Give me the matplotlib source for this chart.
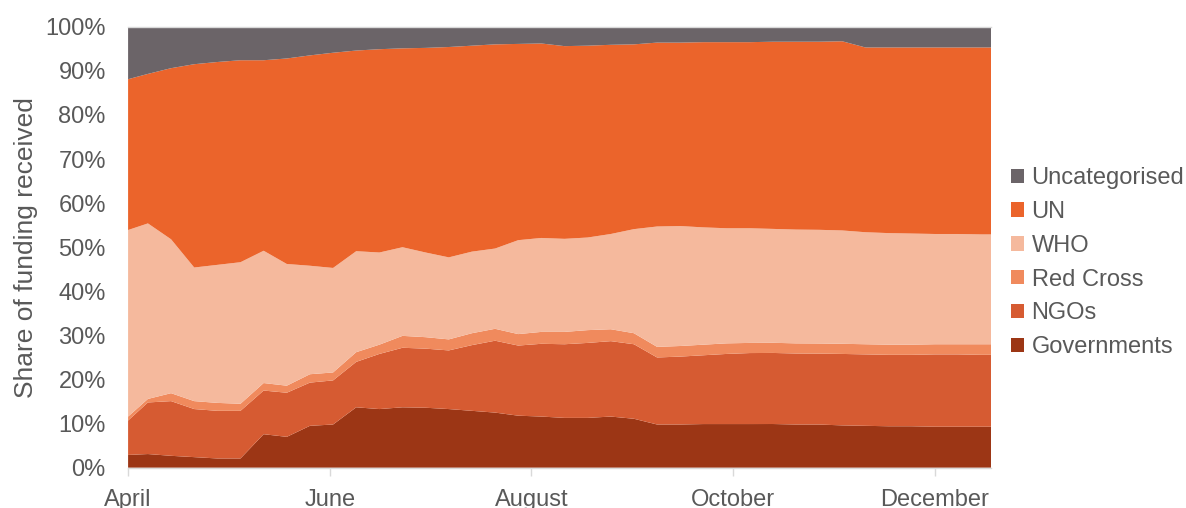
import numpy as np
import pandas as pd
import matplotlib
matplotlib.use("Agg")
import matplotlib.pyplot as plt
import matplotlib.dates as mdates

plt.rcParams['font.family'] = ['Liberation Sans', 'DejaVu Sans']

# weekly observations, April to mid-December 2020
dates = ([pd.Timestamp("2020-04-01")]
         + list(pd.date_range("2020-04-07", "2020-12-15", freq="7D"))
         + [pd.Timestamp("2020-12-18")])

# share of funding received (%)
governments = [2.9, 3.1, 2.7, 2.4, 2.1, 2.1, 7.6, 7.0, 9.5, 9.8,
               13.7, 13.3, 13.7, 13.6, 13.3, 12.9, 12.5, 11.8, 11.6, 11.3,
               11.3, 11.6, 11.1, 9.8, 9.8, 9.9, 9.9, 9.9, 9.9, 9.8,
               9.8, 9.6, 9.5, 9.4, 9.4, 9.3, 9.3, 9.3, 9.3]
ngos = [7.8, 11.7, 12.4, 10.9, 10.8, 10.8, 9.9, 10.0, 9.8, 10.0,
        10.3, 12.5, 13.5, 13.4, 13.3, 14.9, 16.3, 15.9, 16.5, 16.7,
        17.0, 17.1, 16.9, 15.2, 15.4, 15.6, 15.9, 16.1, 16.1, 16.1,
        16.1, 16.2, 16.2, 16.2, 16.2, 16.4, 16.4, 16.3, 16.3]
red_cross = [0.9, 0.8, 1.8, 1.8, 1.8, 1.6, 1.7, 1.6, 1.9, 1.8,
             2.2, 2.1, 2.7, 2.6, 2.5, 2.7, 2.7, 2.6, 2.7, 2.8,
             2.9, 2.7, 2.5, 2.4, 2.4, 2.4, 2.4, 2.3, 2.3, 2.3,
             2.3, 2.3, 2.3, 2.3, 2.3, 2.3, 2.3, 2.4, 2.4]
who = [42.3, 39.8, 34.9, 30.3, 31.3, 32.1, 30.0, 27.6, 24.6, 23.7,
       22.9, 20.9, 20.1, 19.2, 18.6, 18.5, 18.2, 21.3, 21.3, 21.1,
       21.0, 21.6, 23.6, 27.3, 27.2, 26.6, 26.1, 26.0, 25.8, 25.8,
       25.8, 25.7, 25.4, 25.3, 25.2, 25.0, 25.0, 24.9, 24.9]
un = [34.2, 33.9, 38.8, 46.1, 46.0, 45.8, 43.2, 46.6, 47.7, 48.8,
      45.5, 46.1, 45.1, 46.4, 47.7, 46.7, 46.3, 44.5, 44.1, 43.7,
      43.5, 42.9, 41.9, 41.7, 41.6, 42.0, 42.2, 42.2, 42.4, 42.6,
      42.7, 42.9, 41.9, 42.1, 42.2, 42.3, 42.3, 42.4, 42.4]
uncategorised = [11.9, 10.7, 9.4, 8.5, 8.0, 7.6, 7.6, 7.2, 6.5, 5.9,
                 5.4, 5.1, 4.9, 4.8, 4.6, 4.3, 4.0, 3.9, 3.8, 4.4,
                 4.3, 4.1, 4.0, 3.6, 3.6, 3.5, 3.5, 3.5, 3.4, 3.4,
                 3.4, 3.3, 4.7, 4.7, 4.7, 4.7, 4.7, 4.7, 4.7]

labels = ["Governments", "NGOs", "Red Cross", "WHO", "UN", "Uncategorised"]
colors = ["#9c3615", "#d65b32", "#f08a5d", "#f5b99d", "#eb642b", "#6b6468"]

vals = np.array([governments, ngos, red_cross, who, un, uncategorised])
vals = vals / vals.sum(axis=0) * 100  # rounding fix so each column is 100%

text_col = "#595959"
fig = plt.figure(figsize=(11.86, 5.08), dpi=100)
ax = fig.add_axes([0.108, 0.0793, 0.7276, 0.8681])

polys = ax.stackplot(dates, vals, labels=labels, colors=colors, linewidth=0)

ax.set_xlim(dates[0], dates[-1])
ax.set_ylim(0, 100)
ax.set_yticks(np.arange(0, 101, 10))
ax.set_yticklabels([f"{v}%" for v in range(0, 101, 10)])
ax.xaxis.set_major_locator(mdates.MonthLocator(bymonth=[4, 6, 8, 10, 12]))
ax.xaxis.set_major_formatter(mdates.DateFormatter("%B"))

ax.tick_params(axis="y", length=0, pad=16, labelsize=17, labelcolor=text_col)
ax.tick_params(axis="x", length=6, width=1, color="#d9d9d9", pad=9,
               labelsize=17, labelcolor=text_col)
ax.set_ylabel("Share of funding received", fontsize=19, color=text_col, labelpad=5)

for s in ["left", "right"]:
    ax.spines[s].set_visible(False)
for s in ["top", "bottom"]:
    ax.spines[s].set_color("#d9d9d9")
    ax.spines[s].set_linewidth(1)

handles, labs = ax.get_legend_handles_labels()
ax.legend(handles[::-1], labs[::-1], loc="center left", bbox_to_anchor=(1.01, 0.465),
          frameon=False, fontsize=17, labelcolor=text_col, handlelength=0.55,
          handleheight=0.55, handletextpad=0.3, labelspacing=0.5, borderpad=0)

fig.savefig("out.png", dpi=100)
